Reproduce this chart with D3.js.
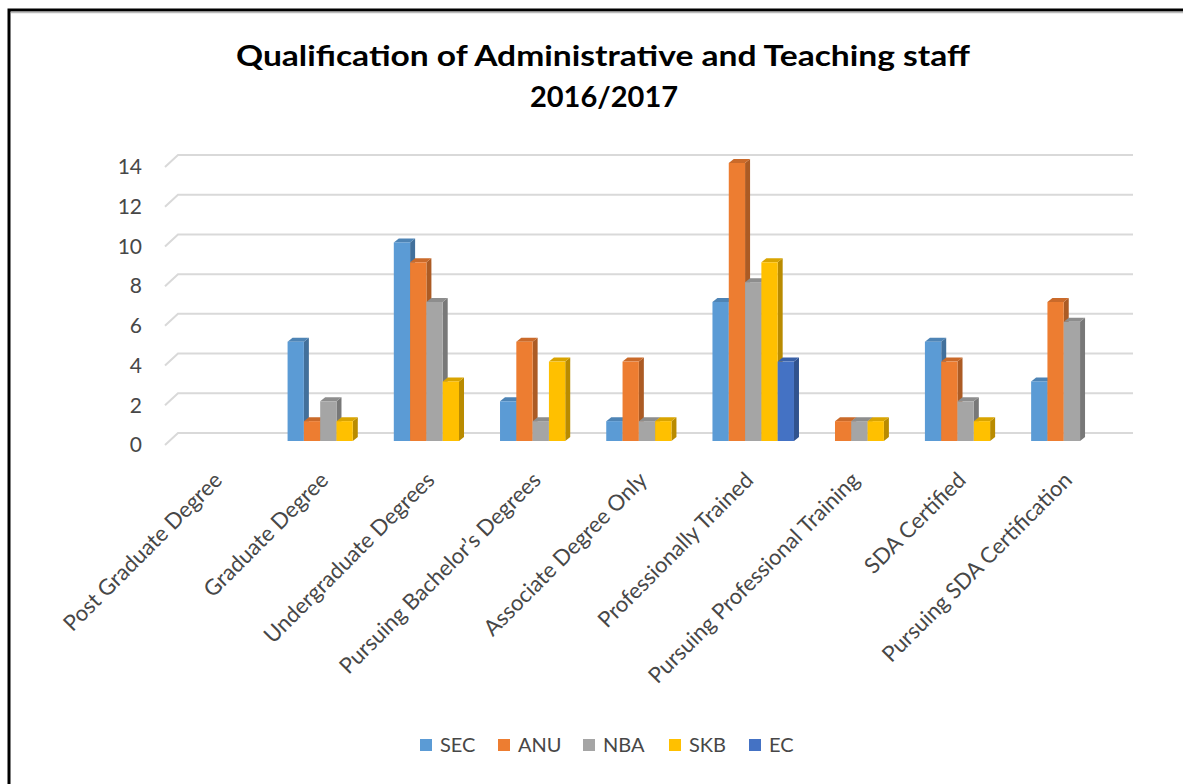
<!DOCTYPE html>
<html>
<head>
<meta charset="utf-8">
<script src="https://cdn.jsdelivr.net/npm/d3@7"></script>
<style>
  html, body { margin: 0; padding: 0; background: #fff; }
  svg { display: block; }
  text { font-family: Lato, "Liberation Sans", sans-serif; }
</style>
</head>
<body>
<svg id="chart" width="1183" height="784"></svg>
<script>
// Categories along the horizontal axis
const categories = [
  "Post Graduate Degree",
  "Graduate Degree",
  "Undergraduate Degrees",
  "Pursuing Bachelor\u2019s Degrees",
  "Associate Degree Only",
  "Professionally Trained",
  "Pursuing Professional Training",
  "SDA Certified",
  "Pursuing SDA Certification"
];

// Schools (series); null = no entry for that category
const seriesNames = ["SEC", "ANU", "NBA", "SKB", "EC"];
const SEC = [null, 5, 10, 2, 1, 7, null, 5, 3];
const ANU = [null, 1, 9, 5, 4, 14, 1, 4, 7];
const NBA = [null, 2, 7, 1, 1, 8, 1, 2, 6];
const SKB = [null, 1, 3, 4, 1, 9, 1, 1, null];
const EC  = [null, null, null, null, null, 4, null, null, null];
const seriesValues = [SEC, ANU, NBA, SKB, EC];
const seriesColors = ["#5B9BD5", "#ED7D31", "#A5A5A5", "#FFC000", "#4472C4"];

const yTicks = [0, 2, 4, 6, 8, 10, 12, 14];

const titleLines = ["Qualification of Administrative and Teaching staff", "2016/2017"];

const svg = d3.select("#chart");
const textColor = "#474747";

// Outer frame (top and left edges)
svg.append("path")
  .attr("d", "M9,784 V10 H1183")
  .attr("fill", "none")
  .attr("stroke", "#000")
  .attr("stroke-width", 3);
svg.append("line")
  .attr("x1", 11).attr("x2", 1183).attr("y1", 12.5).attr("y2", 12.5)
  .attr("stroke", "#bbb").attr("stroke-width", 1.5);

// Title
svg.append("text")
  .attr("x", 603).attr("y", 66)
  .attr("text-anchor", "middle")
  .attr("font-size", 29).attr("font-weight", "bold").attr("fill", "#000")
  .attr("textLength", 734).attr("lengthAdjust", "spacingAndGlyphs")
  .text(titleLines[0]);
svg.append("text")
  .attr("x", 604).attr("y", 107)
  .attr("text-anchor", "middle")
  .attr("font-size", 29).attr("font-weight", "bold").attr("fill", "#000")
  .text(titleLines[1]);

// Scales: back wall (gridlines), front plane (labels), bar fronts
const yMax = 14;
const yWall  = d3.scaleLinear().domain([0, yMax]).range([433, 155]);
const yFront = d3.scaleLinear().domain([0, yMax]).range([445, 167]);
const yBar   = d3.scaleLinear().domain([0, yMax]).range([441, 163]);

const x0 = d3.scaleBand().domain(categories).range([169, 1125]).padding(0);
const x1 = d3.scaleBand().domain(seriesNames).range([0, x0.bandwidth()])
  .paddingInner(0).paddingOuter(0.758);

// Gridlines on the wall with a slanted floor edge on the left
const wallLeft = 178, wallRight = 1133, slantDx = 13;
svg.append("g").selectAll("path")
  .data(yTicks)
  .join("path")
  .attr("d", d => `M${wallLeft - slantDx},${yFront(d)} L${wallLeft},${yWall(d)} H${wallRight}`)
  .attr("fill", "none")
  .attr("stroke", "#d9d9d9")
  .attr("stroke-width", 2);

// Y axis labels
const yAxis = svg.append("g")
  .attr("transform", "translate(142,0)")
  .call(d3.axisLeft(yFront).tickValues(yTicks).tickSize(0).tickPadding(0));
yAxis.select(".domain").remove();
yAxis.selectAll("text")
  .attr("font-family", "Lato, 'Liberation Sans', sans-serif")
  .attr("font-size", 21).attr("fill", textColor);

// 3D columns
const depthX = 5, depthY = -4;
const bars = [];
categories.forEach((c, ci) => {
  seriesNames.forEach((s, si) => {
    const v = seriesValues[si][ci];
    if (v === null || v === undefined) return;
    bars.push({ c, s, v, color: seriesColors[si] });
  });
});

const barG = svg.append("g");
const bw = x1.bandwidth();
bars.forEach(b => {
  const x = x0(b.c) + x1(b.s);
  const top = yBar(b.v), bot = yBar(0);
  const col = d3.color(b.color);
  const g = barG.append("g");
  // side face
  g.append("path")
    .attr("d", `M${x + bw},${top} L${x + bw + depthX},${top + depthY} L${x + bw + depthX},${bot + depthY} L${x + bw},${bot} Z`)
    .attr("fill", col.darker(0.9));
  // top face
  g.append("path")
    .attr("d", `M${x},${top} L${x + depthX},${top + depthY} L${x + bw + depthX},${top + depthY} L${x + bw},${top} Z`)
    .attr("fill", col.darker(0.45));
  // front face
  g.append("rect")
    .attr("x", x).attr("y", top)
    .attr("width", bw).attr("height", bot - top)
    .attr("fill", b.color);
});

// Category labels, rotated
const xAxis = svg.append("g")
  .attr("transform", "translate(-4,476)")
  .call(d3.axisBottom(x0).tickSize(0).tickPadding(0));
xAxis.select(".domain").remove();
xAxis.selectAll("text")
  .attr("font-family", "Lato, 'Liberation Sans', sans-serif")
  .attr("font-size", 22).attr("fill", textColor)
  .attr("text-anchor", "end")
  .attr("dy", "0.35em")
  .attr("transform", "rotate(-45)");

// Legend
const legendX = [420, 498, 583, 669, 749];
const legend = svg.append("g");
seriesNames.forEach((s, i) => {
  legend.append("rect")
    .attr("x", legendX[i]).attr("y", 739)
    .attr("width", 12).attr("height", 12)
    .attr("fill", seriesColors[i]);
  legend.append("text")
    .attr("x", legendX[i] + 20).attr("y", 752)
    .attr("font-size", 20).attr("fill", textColor)
    .text(s);
});
</script>
</body>
</html>
